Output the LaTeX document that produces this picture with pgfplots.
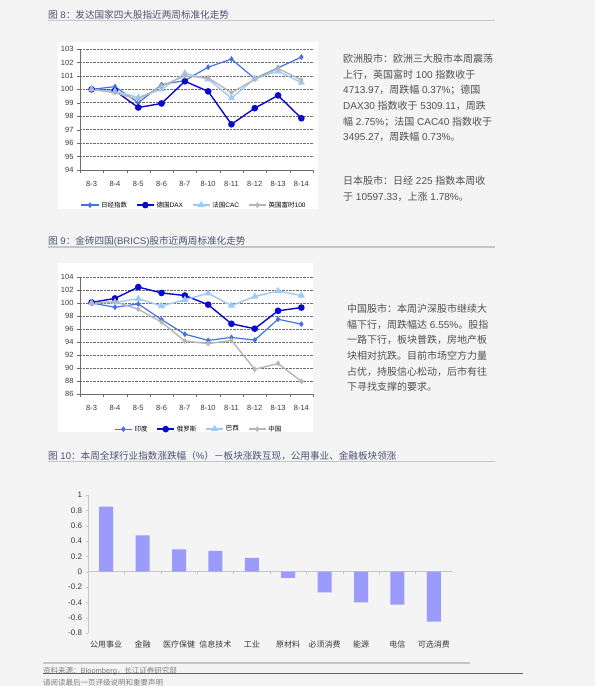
\documentclass[border=0pt]{standalone}
\usepackage{fontspec}
\setmainfont{Liberation Sans}
\newfontfamily\cjk{Noto Sans CJK SC}
\usepackage{pgfplots}
\pgfplotsset{compat=1.18}

% Switch to the CJK face automatically for Han characters and full-width punctuation
\XeTeXinterchartokenstate=1
\newXeTeXintercharclass\CJKcls
\makeatletter
\count@="3000 \loop\ifnum\count@<"3040 \XeTeXcharclass\count@=\CJKcls \advance\count@ 1 \repeat
\count@="4E00 \loop\ifnum\count@<"A000 \XeTeXcharclass\count@=\CJKcls \advance\count@ 1 \repeat
\count@="FF00 \loop\ifnum\count@<"FFF0 \XeTeXcharclass\count@=\CJKcls \advance\count@ 1 \repeat
\makeatother
\XeTeXinterchartoks 0 \CJKcls = {\cjk}
\XeTeXinterchartoks 4095 \CJKcls = {\cjk}
\XeTeXinterchartoks \CJKcls 0 = {\rmfamily}
\XeTeXinterchartoks \CJKcls 4095 = {\rmfamily}

\definecolor{pagebg}{HTML}{F4F4F4}
\definecolor{rulecol}{HTML}{C4C5CC}
\definecolor{titlecol}{HTML}{4A5272}
\definecolor{bodycol}{HTML}{505050}
\definecolor{tickcol}{HTML}{383838}
\definecolor{cA}{HTML}{4472E2}
\definecolor{cB}{HTML}{0A0ACD}
\definecolor{cC}{HTML}{9CCBFA}
\definecolor{cD}{HTML}{B6B6B6}
\definecolor{barcol}{HTML}{9B9BFB}

\newcommand\titlefont{\fontsize{9.6}{11}\selectfont}
\newcommand\bodyfont{\fontsize{10}{15.6}\selectfont}

\pgfplotsset{
  /pgf/number format/assume math mode=true,
  linechart/.style={
    scale only axis,
    width=233pt,
    xmin=-0.5, xmax=9.5,
    axis x line*=bottom, axis y line*=left,
    axis line style={gray!85!black},
    xtick={0,...,9},
    xticklabels={8-3,8-4,8-5,8-6,8-7,8-10,8-11,8-12,8-13,8-14},
    major x tick style={draw=none},
    minor xtick={-0.5,0.5,...,9.5},
    minor tick length=3pt, major tick length=3pt,
    tick align=outside,
    tick style={gray!85!black},
    ymajorgrids,
    major grid style={densely dotted, gray!85!black, line width=0.6pt},
    ticklabel style={font=\fontsize{7.5}{8}\selectfont, text=tickcol},
    xticklabel style={yshift=-4.5pt},
    legend columns=4,
    legend style={draw=none, fill=none, font=\fontsize{6.5}{7}\selectfont,
      /tikz/every even column/.append style={column sep=7pt}},
  },
  sA/.style={color=cA, mark=diamond*, mark size=2pt, line width=1.2pt},
  sB/.style={color=cB, mark=*, mark size=2.6pt, line width=1.4pt},
  sC/.style={color=cC, mark=triangle*, mark size=2.8pt, line width=1.4pt},
  sD/.style={color=cD, mark=diamond*, mark size=1.8pt, line width=1.4pt},
}

\begin{document}
\begin{tikzpicture}
\fill[pagebg] (0,0) rectangle (595pt,-686pt);
\useasboundingbox (0,0) rectangle (595pt,-686pt);

% chart panels
\fill[white] (58pt,-42pt) rectangle (318pt,-209pt);
\fill[white] (58pt,-263pt) rectangle (313pt,-432pt);

% figure titles with rules
\draw[rulecol, line width=1.4pt] (48pt,-20.5pt) -- (495pt,-20.5pt);
\node[anchor=west, inner sep=0, font=\titlefont, text=titlecol] at (48pt,-15pt)
  {图 8：发达国家四大股指近两周标准化走势};
\draw[rulecol, line width=1.4pt] (48pt,-247pt) -- (495pt,-247pt);
\node[anchor=west, inner sep=0, font=\titlefont, text=titlecol] at (48pt,-241.5pt)
  {图 9：金砖四国(BRICS)股市近两周标准化走势};
\draw[rulecol, line width=1.4pt] (48pt,-461.5pt) -- (495pt,-461.5pt);
\node[anchor=west, inner sep=0, font=\titlefont, text=titlecol] at (48pt,-456pt)
  {图 10：本周全球行业指数涨跌幅（\%）－板块涨跌互现，公用事业、金融板块领涨};

% commentary
\node[anchor=north west, inner sep=0, align=left, font=\bodyfont, text=bodycol] at (343pt,-54pt)
  {欧洲股市：欧洲三大股市本周震荡\\
   上行，英国富时 100 指数收于\\
   4713.97，周跌幅 0.37\%；德国\\
   DAX30 指数收于 5309.11，周跌\\
   幅 2.75\%；法国 CAC40 指数收于\\
   3495.27，周跌幅 0.73\%。};
\node[anchor=north west, inner sep=0, align=left, font=\bodyfont, text=bodycol] at (343pt,-176pt)
  {日本股市：日经 225 指数本周收\\
   于 10597.33，上涨 1.78\%。};
\node[anchor=north west, inner sep=0, align=left, font=\bodyfont, text=bodycol] at (347pt,-304pt)
  {中国股市：本周沪深股市继续大\\
   幅下行，周跌幅达 6.55\%。股指\\
   一路下行，板块普跌，房地产板\\
   块相对抗跌。目前市场空方力量\\
   占优，持股信心松动，后市有往\\
   下寻找支撑的要求。};

% Developed markets
\begin{axis}[linechart, at={(80pt,-170pt)}, anchor=south west,
  height=121pt, ymin=94, ymax=103, ytick={94,95,...,103},
  legend style={at={(0.49,-0.29)}, anchor=center}]
\addplot[sA] coordinates {(0,100) (1,100.2) (2,99.0) (3,100.35) (4,100.65) (5,101.65) (6,102.25) (7,100.8) (8,101.6) (9,102.4)};
\addlegendentry{日经指数}
\addplot[sB] coordinates {(0,100) (1,99.9) (2,98.65) (3,98.95) (4,100.6) (5,99.85) (6,97.4) (7,98.6) (8,99.55) (9,97.85)};
\addlegendentry{德国DAX}
\addplot[sC] coordinates {(0,100) (1,99.85) (2,99.4) (3,100.0) (4,101.2) (5,100.75) (6,99.35) (7,100.8) (8,101.35) (9,100.5)};
\addlegendentry{法国CAC}
\addplot[sD] coordinates {(0,100) (1,99.75) (2,99.25) (3,100.25) (4,101.0) (5,100.85) (6,99.75) (7,100.75) (8,101.55) (9,100.7)};
\addlegendentry{英国富时100}
\end{axis}

% BRICS markets
\begin{axis}[linechart, at={(80pt,-394pt)}, anchor=south west,
  height=117pt, ymin=86, ymax=104, ytick={86,88,...,104},
  legend style={at={(0.51,-0.30)}, anchor=center}]
\addplot[sA] coordinates {(0,100) (1,99.35) (2,99.85) (3,97.45) (4,95.2) (5,94.25) (6,94.7) (7,94.3) (8,97.5) (9,96.75)};
\addlegendentry{印度}
\addplot[sB] coordinates {(0,100.1) (1,100.7) (2,102.45) (3,101.55) (4,101.15) (5,99.75) (6,96.8) (7,96.05) (8,98.8) (9,99.3)};
\addlegendentry{俄罗斯}
\addplot[sC] coordinates {(0,100) (1,100.1) (2,100.65) (3,99.55) (4,100.5) (5,101.5) (6,99.6) (7,101.0) (8,101.85) (9,101.15)};
\addlegendentry{巴西}
\addplot[sD] coordinates {(0,100) (1,100.2) (2,99.05) (3,97.05) (4,94.15) (5,93.75) (6,94.25) (7,89.8) (8,90.7) (9,87.95)};
\addlegendentry{中国}
\end{axis}

% Global sector returns
\begin{axis}[at={(88pt,-633pt)}, anchor=south west, scale only axis,
  width=364pt, height=138pt,
  xmin=-0.5, xmax=9.5, ymin=-0.8, ymax=1,
  ybar, bar width=14pt,
  axis y line*=left, axis x line*=bottom,
  x axis line style={draw=none},
  y axis line style={gray!45},
  ytick={-0.8,-0.6,-0.4,-0.2,0,0.2,0.4,0.6,0.8,1},
  yticklabel style={/pgf/number format/fixed},
  xtick={0,...,9},
  xticklabels={公用事业,金融,医疗保健,信息技术,工业,原材料,必须消费,能源,电信,可选消费},
  major x tick style={draw=none},
  y tick style={gray!45}, major tick length=2.5pt, tick align=outside,
  ticklabel style={font=\fontsize{8}{8.5}\selectfont, text=tickcol},
  xticklabel style={yshift=-2pt},
  extra y ticks={0}, extra y tick labels={},
  extra y tick style={ymajorgrids, major grid style={gray!45, line width=0.5pt}},
]
\addplot[fill=barcol, draw=none] coordinates {(0,0.85) (1,0.475) (2,0.29) (3,0.27) (4,0.18) (5,-0.08) (6,-0.27) (7,-0.40) (8,-0.43) (9,-0.65)};
\pgfplotsinvokeforeach{-0.5,0.5,1.5,2.5,3.5,4.5,5.5,6.5,7.5,8.5,9.5}{
  \draw[gray!45, line width=0.5pt] (axis cs:#1,0) -- ++(0pt,-2.5pt);
}
\end{axis}

% source and disclaimer
\draw[rulecol, line width=1.4pt] (43pt,-663pt) -- (470pt,-663pt);
\node[anchor=west, inner sep=0, font=\fontsize{7.5}{8}\selectfont, text=gray] at (43pt,-671.5pt)
  {资料来源：Bloomberg，长江证券研究部};
\draw[gray!75!black, line width=1pt] (43pt,-673pt) -- (523pt,-673pt);
\node[anchor=west, inner sep=0, font=\fontsize{7.5}{8}\selectfont, text=gray] at (43pt,-683pt)
  {请阅读最后一页评级说明和重要声明};
\end{tikzpicture}
\end{document}
